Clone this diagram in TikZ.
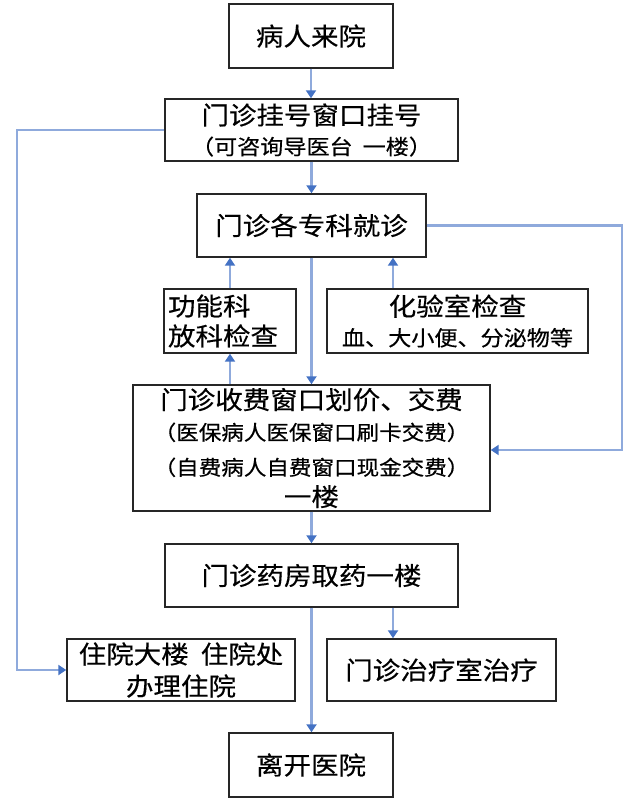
\documentclass[tikz,border=0pt]{standalone}
\usepackage{fontspec}
\newfontfamily\cjk[FakeStretch=1.1,FakeBold=0.4]{Noto Sans CJK SC}
\usetikzlibrary{arrows.meta}
\definecolor{lineblue}{RGB}{143,170,220}
\definecolor{tipblue}{RGB}{68,114,196}
\newcommand\sz[1]{\fontsize{#1}{30}\selectfont}
\begin{document}
\begin{tikzpicture}[x=1pt,y=-1pt,
  box/.style={draw=black!85, line width=1.4pt, rectangle, inner sep=0pt, align=center, font=\cjk\fontsize{25}{30}\selectfont},
  conn/.style={draw=lineblue, line width=2.5pt},
  arr/.style={conn, -{Triangle[width=10pt,length=8pt,color=tipblue]}}]
\useasboundingbox (0,0) rectangle (640,803);
\fill[white] (0,0) rectangle (640,803);
\node[box, minimum width=164pt, minimum height=64pt] (b1) at (311,36) {病人来院};
\node[box, minimum width=293pt, minimum height=62pt] (b2) at (311.5,130) {门诊挂号窗口挂号\\{\sz{21}（可咨询导医台\hspace{10pt}一楼）}};
\node[box, minimum width=229pt, minimum height=63pt] (b3) at (311.5,225.5) {门诊各专科就诊};
\node[box, text width=124pt, inner xsep=4pt, align=left, minimum height=64pt] (gn) at (230,321) {功能科\\放科检查};
\node[box, minimum width=261pt, minimum height=64pt] (hy) at (457.5,321) {化验室检查\\{\sz{21}血、大小便、分泌物等}};
\node[box, minimum width=357pt, minimum height=126pt, font=\cjk\fontsize{25}{31}\selectfont] (cf) at (311.5,448) {门诊收费窗口划价、交费\\{\sz{20.5}（医保病人医保窗口刷卡交费）}\\[4pt]{\sz{20.5}（自费病人自费窗口现金交费）}\\一楼};
\node[box, minimum width=293pt, minimum height=63pt] (ph) at (311.5,575.5) {门诊药房取药一楼};
\node[box, minimum width=228pt, minimum height=62pt, font=\cjk\fontsize{25}{32}\selectfont] (zy) at (181,670) {住院大楼\hspace{12pt}住院处\\办理住院};
\node[box, minimum width=229pt, minimum height=62pt] (tr) at (441.5,670) {门诊治疗室治疗};
\node[box, minimum width=164pt, minimum height=64pt] (lk) at (311,765) {离开医院};
\coordinate (xr) at (393,0);
\coordinate (ll) at (17,0);
\coordinate (rr) at (622,450);
\draw[arr] (b1.south) -- (b1.south |- b2.north);
\draw[arr] (b2.south) -- (b2.south |- b3.north);
\draw[arr] (b3.south) -- (b3.south |- cf.north);
\draw[arr] (cf.north -| gn.south) -- (gn.south);
\draw[arr] (gn.north) -- (gn.north |- b3.south);
\draw[arr] (hy.north -| xr) -- (b3.south -| xr);
\draw[arr] (b3.east) -| (rr) -- (cf.east |- rr);
\draw[arr] (b2.west) -| (ll |- zy.west) -- (zy.west);
\draw[arr] (cf.south) -- (cf.south |- ph.north);
\draw[arr] (ph.south) -- (ph.south |- lk.north);
\draw[arr] (ph.south -| xr) -- (tr.north -| xr);
\end{tikzpicture}
\end{document}
